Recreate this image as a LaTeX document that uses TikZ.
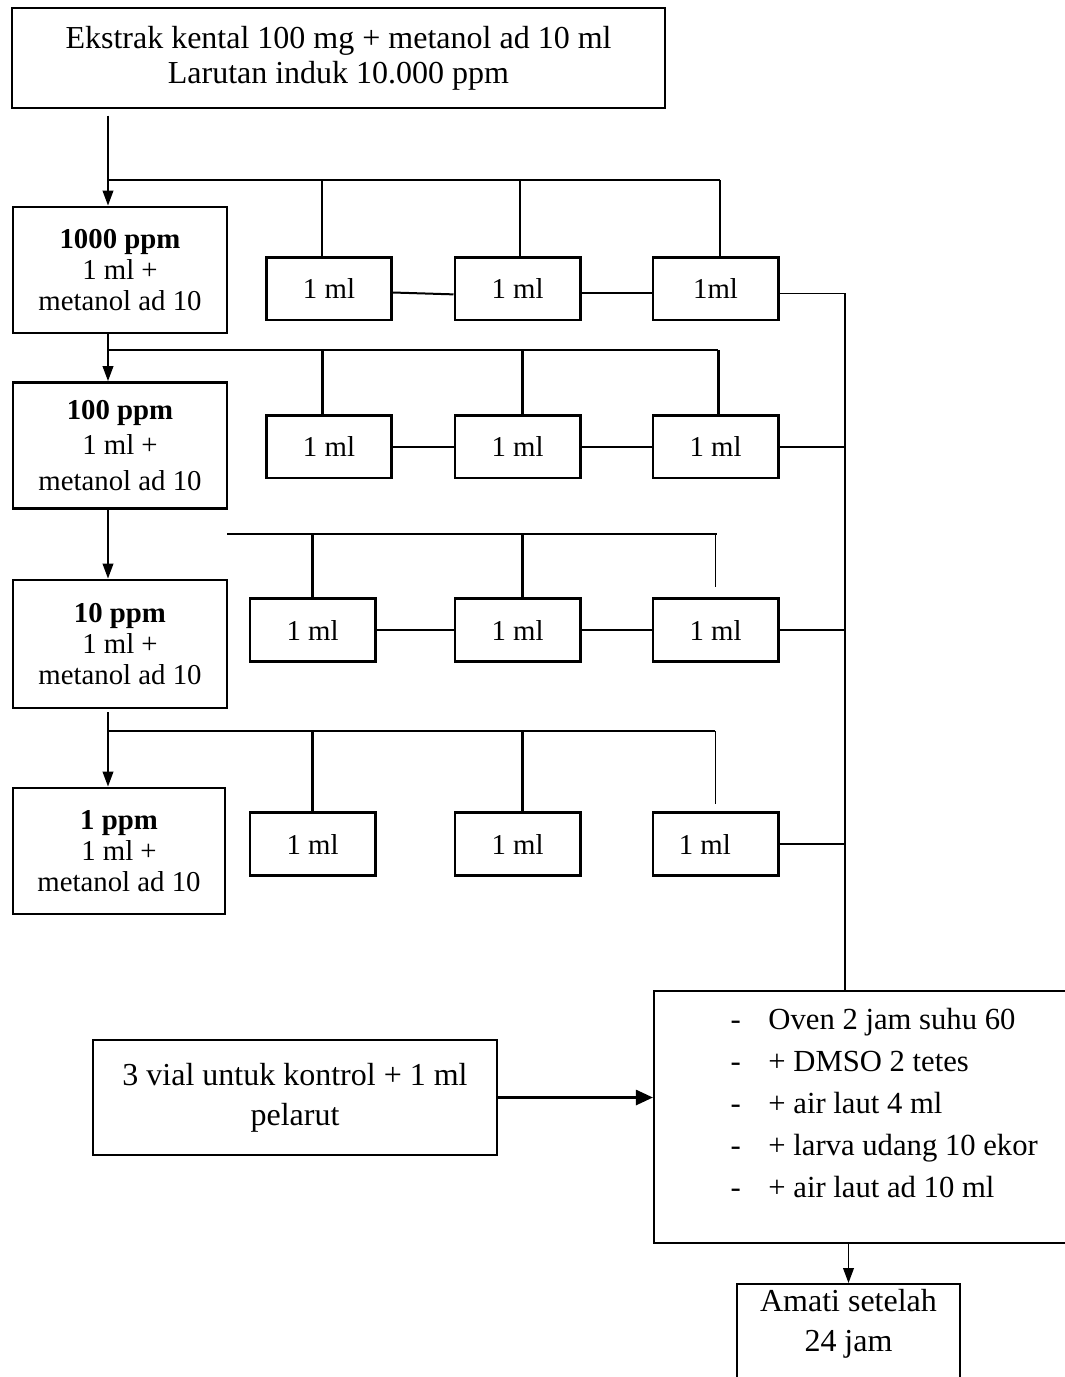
\documentclass[tikz,border=0pt]{standalone}
\usepackage{fontspec}
\setmainfont{Liberation Serif}
\usetikzlibrary{arrows.meta}
\begin{document}
\begin{tikzpicture}[x=0.375pt,y=-0.375pt,
  box/.style={draw, line width=1.1pt, inner sep=0pt, align=center},
  thinbox/.style={draw, line width=0.75pt, inner sep=0pt, align=center},
  lbox/.style={box, minimum width=80.25pt, minimum height=47.25pt, font=\fontsize{10.8}{11.6}\selectfont},
  sbox/.style={box, minimum width=46.9pt, minimum height=23.6pt, font=\fontsize{10.8}{12}\selectfont},
  arr/.style={-{Triangle[length=5.6pt,width=4pt]}, line width=0.6pt},
  bigarr/.style={-{Triangle[length=6.4pt,width=5.6pt]}, line width=1.1pt},
  thinline/.style={line width=0.55pt},
  midline/.style={line width=0.75pt},
  thickline/.style={line width=1.1pt}]
\useasboundingbox (0,0) rectangle (1065,1377);
\clip (0,0) rectangle (1065,1377);

% top box
\node[thinbox, minimum width=244.9pt, minimum height=37.5pt, font=\fontsize{12}{13.2}\selectfont] (top) at (338.5,58)
  {Ekstrak kental 100 mg + metanol ad 10 ml\\Larutan induk 10.000 ppm};

% left column
\node[lbox] (c1) at (120,270) {\textbf{1000 ppm}\\1 ml +\\metanol ad 10};
\node[lbox, font=\fontsize{10.8}{13.2}\selectfont] (c2) at (120,445.5) {\textbf{100 ppm}\\1 ml +\\metanol ad 10};
\node[lbox, minimum height=48pt] (c3) at (120,644) {\textbf{10 ppm}\\1 ml +\\metanol ad 10};
\node[lbox, minimum width=79.5pt] (c4) at (119,851) {\textbf{1 ppm}\\1 ml +\\metanol ad 10};

% small boxes
\node[sbox] (r1a) at (329,288.5) {1 ml};
\node[sbox] (r1b) at (517.5,288.5) {1 ml};
\node[sbox] (r1c) at (715.5,288.5) {1ml};
\node[sbox] (r2a) at (329,446.5) {1 ml};
\node[sbox] (r2b) at (517.5,446.5) {1 ml};
\node[sbox] (r2c) at (715.5,446.5) {1 ml};
\node[sbox] (r3a) at (312.5,630) {1 ml};
\node[sbox] (r3b) at (517.5,630) {1 ml};
\node[sbox] (r3c) at (715.5,630) {1 ml};
\node[sbox] (r4a) at (312.5,844) {1 ml};
\node[sbox] (r4b) at (517.5,844) {1 ml};
\node[sbox] (r4c) at (715.5,844) {1 ml\hspace{8pt}};

% oven box
\node[thinbox, minimum width=165pt, minimum height=94.5pt, anchor=north west] (oven) at (653,990) {};
\node[anchor=north west, inner sep=0pt, align=left, font=\fontsize{11.5}{15.7}\selectfont] (ovenlist) at (730,1008)
  {-\hspace{10.4pt}Oven 2 jam suhu 60\\
   -\hspace{10.4pt}+ DMSO 2 tetes\\
   -\hspace{10.4pt}+ air laut 4 ml\\
   -\hspace{10.4pt}+ larva udang 10 ekor\\
   -\hspace{10.4pt}+ air laut ad 10 ml};

% control box
\node[thinbox, minimum width=151.5pt, minimum height=43.1pt, font=\fontsize{12}{15}\selectfont] (kontrol) at (295,1097.5)
  {3 vial untuk kontrol + 1 ml\\pelarut};

% observe box (bottom cut off)
\node[thinbox, anchor=north, inner xsep=0pt, inner ysep=2pt, minimum width=83.6pt, text depth=40pt, font=\fontsize{12}{15}\selectfont] (amati) at (848.5,1283)
  {Amati setelah\\24 jam};

% bus coordinates
\coordinate (b1) at (108,180);
\coordinate (b1e) at (720,180);
\coordinate (b2) at (108,350);
\coordinate (b2e) at (718,350);
\coordinate (b3) at (227,534);
\coordinate (b3e) at (717,534);
\coordinate (b4) at (108,731);
\coordinate (b4e) at (715,731);
\coordinate (tk) at (845,295);

% row 1
\draw[arr, shorten <=2.5pt] (top.south -| b1) -- (c1.north -| b1);
\draw[thinline] (b1) -- (b1e);
\draw[thinline] ([xshift=-2.6pt]r1a.north |- b1) -- ([xshift=-2.6pt]r1a.north);
\draw[thinline] ([xshift=0.9pt]r1b.north |- b1) -- ([xshift=0.9pt]r1b.north);
\draw[thinline] ([xshift=1.7pt]r1c.north |- b1) -- ([xshift=1.7pt]r1c.north);
\draw[midline] ([yshift=-1.5pt]r1a.east) -- ([yshift=-2.2pt]r1b.west);
\draw[midline] ([yshift=-1.8pt]r1b.east) -- ([yshift=-1.8pt]r1c.west);

% row 2
\draw[arr] (c1.south -| b2) -- (c2.north -| b2);
\draw[thickline] (b2) -- (b2e);
\draw[thickline] ([xshift=-2.6pt]r2a.north |- b2) -- ([xshift=-2.6pt]r2a.north);
\draw[thickline] ([xshift=1.7pt]r2b.north |- b2) -- ([xshift=1.7pt]r2b.north);
\draw[thickline] ([xshift=1pt]r2c.north |- b2) -- ([xshift=1pt]r2c.north);
\draw[midline] (r2a.east) -- (r2b.west);
\draw[midline] (r2b.east) -- (r2c.west);

% row 3
\draw[arr] (c2.south -| b2) -- (c3.north -| b2);
\draw[thickline] (b3) -- (b3e);
\draw[thickline] (r3a.north |- b3) -- (r3a.north);
\draw[thickline] ([xshift=1.7pt]r3b.north |- b3) -- ([xshift=1.7pt]r3b.north);
\draw[thinline, shorten >=3.7pt] (r3c.north |- b3) -- (r3c.north);
\draw[midline] (r3a.east) -- (r3b.west);
\draw[midline] (r3b.east) -- (r3c.west);

% row 4
\draw[arr, shorten <=1pt] (c3.south -| b4) -- (c4.north -| b4);
\draw[thickline] (b4) -- (b4e);
\draw[thickline] (r4a.north |- b4) -- (r4a.north);
\draw[thickline] ([xshift=1.7pt]r4b.north |- b4) -- ([xshift=1.7pt]r4b.north);
\draw[thinline, shorten >=2.6pt] (r4c.north |- b4) -- (r4c.north);

% right collecting line
\draw[thinline] ([yshift=-1.8pt]r1c.east) -- ([yshift=-1.8pt]r1c.east -| tk);
\draw[midline] (r2c.east) -- (r2c.east -| tk);
\draw[midline] (r3c.east) -- (r3c.east -| tk);
\draw[thickline] (r4c.east) -- (r4c.east -| tk);
\draw[thinline] ([yshift=-1.8pt]r1c.east -| tk) -- (oven.north -| tk);

% control to oven, oven to observe
\draw[bigarr] (kontrol.east) -- (kontrol.east -| oven.west);
\draw[arr] (oven.south -| amati.north) -- (amati.north);
\end{tikzpicture}
\end{document}
